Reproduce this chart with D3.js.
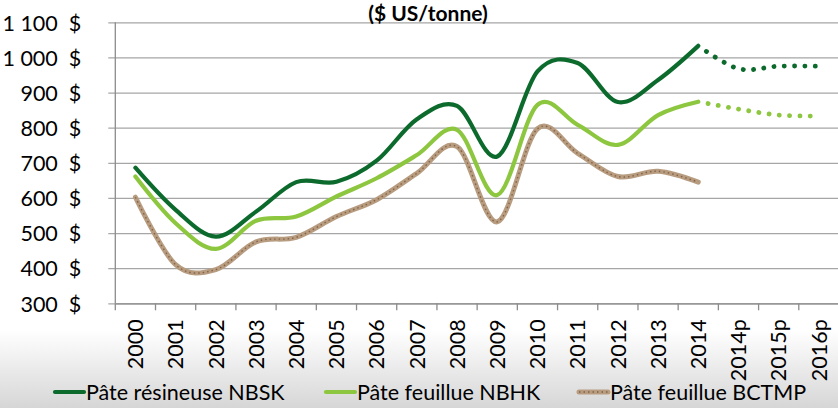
<!DOCTYPE html>
<html>
<head>
<meta charset="utf-8">
<script src="https://cdn.jsdelivr.net/npm/d3@7"></script>
<style>
  body { margin: 0; background: #fff; }
  text { font-family: Lato, "Open Sans", sans-serif; fill: #000; }
</style>
</head>
<body>
<div id="chart"></div>
<script>
// categories
var years = ["2000", "2001", "2002", "2003", "2004", "2005", "2006", "2007", "2008",
  "2009", "2010", "2011", "2012", "2013", "2014", "2014p", "2015p", "2016p"];

// actual prices 2000 - 2014
var nbsk = [686, 566, 490, 561, 645, 646, 706, 824, 862, 718, 960, 984, 873, 936, 1033];
var nbhk = [661, 528, 455, 535, 547, 604, 656, 722, 794, 608, 865, 808, 751, 836, 874];
var bctmp = [602, 410, 396, 475, 488, 547, 595, 670, 746, 532, 797, 727, 661, 676, 645];

// forecasts (2014, 2014p, 2015p, 2016p)
var forecastYears = ["2014", "2014p", "2015p", "2016p"];
var nbskForecast = [1033, 968, 975, 975];
var nbhkForecast = [874, 853, 836, 833];

var yTicks = [300, 400, 500, 600, 700, 800, 900, 1000, 1100];
var legendNames = ["Pâte résineuse NBSK", "Pâte feuillue NBHK", "Pâte feuillue BCTMP"];

var svgWidth = 838;
var svgHeight = 408;

var margin = { top: 22.3, left: 115.3, bottom: 105, right: -1 };
var chartWidth = svgWidth - margin.left - margin.right;
var chartHeight = 303.3 - margin.top;

var darkGreen = "#0b6a2c";
var lightGreen = "#8dc63f";
var tan = "#b89c80";
var fontSize = "21.5px";

var svg = d3.select("#chart").append("svg")
  .attr("width", svgWidth).attr("height", svgHeight);

// background fade at the bottom
var defs = svg.append("defs");
var grad = defs.append("linearGradient").attr("id", "fade")
  .attr("x1", 0).attr("y1", 0).attr("x2", 0).attr("y2", 1);
grad.append("stop").attr("offset", "0%").attr("stop-color", "#ffffff");
grad.append("stop").attr("offset", "100%").attr("stop-color", "#d6d6d6");
svg.append("rect").attr("x", 0).attr("y", 330).attr("width", svgWidth).attr("height", 78)
  .attr("fill", "url(#fade)");

var g = svg.append("g").attr("transform", `translate(${margin.left}, ${margin.top})`);

// scales
var x = d3.scaleBand().domain(years).range([0, chartWidth]);
var y = d3.scaleLinear().domain([300, 1100]).range([chartHeight, 0]);
var cx = d => x(d) + x.bandwidth() / 2;

var fmt = d => d3.format(",")(d).replace(",", " ") + "  $";

// y axis with gridlines
var yAxis = g.append("g").call(d3.axisLeft(y).tickValues(yTicks).tickFormat(fmt).tickPadding(21))
  .attr("transform", "translate(-7,0)");
yAxis.select(".domain").remove();
yAxis.selectAll(".tick line").attr("stroke", "#a6a6a6").attr("stroke-width", 1.3)
  .attr("x1", chartWidth + 7).attr("x2", 0);
yAxis.selectAll("text").style("font-size", fontSize).style("white-space", "pre").attr("dy", "0.36em");

// x axis
var xAxis = g.append("g").attr("transform", `translate(0, ${chartHeight})`)
  .call(d3.axisBottom(x).tickSize(0));
xAxis.select(".domain").attr("stroke", "#8c8c8c").attr("stroke-width", 1.3);
xAxis.selectAll("text")
  .style("font-size", fontSize)
  .attr("text-anchor", "end")
  .attr("transform", "rotate(-90)")
  .attr("x", -16).attr("y", 0).attr("dy", "0.36em");

// category tick marks between bands
g.append("g").selectAll("line").data(years).join("line")
  .attr("x1", d => x(d)).attr("x2", d => x(d))
  .attr("y1", chartHeight).attr("y2", chartHeight + 7)
  .attr("stroke", "#8c8c8c").attr("stroke-width", 1.3);

// vertical axis line
g.append("line").attr("x1", 0).attr("x2", 0).attr("y1", 0).attr("y2", chartHeight)
  .attr("stroke", "#8c8c8c").attr("stroke-width", 1.3);

// line generators
var line = d3.line()
  .x((d, i) => cx(years[i]))
  .y(d => y(d))
  .curve(d3.curveCatmullRom.alpha(0));

var fLine = d3.line()
  .x((d, i) => cx(forecastYears[i]))
  .y(d => y(d))
  .curve(d3.curveCatmullRom.alpha(0));

// BCTMP textured line
g.append("path").attr("d", line(bctmp)).attr("fill", "none")
  .attr("stroke", tan).attr("stroke-width", 5).attr("stroke-linecap", "round");
g.append("path").attr("d", line(bctmp)).attr("fill", "none")
  .attr("stroke", "#6e4a2e").attr("stroke-width", 1.4).attr("stroke-dasharray", "1.5 3")
  .attr("opacity", 0.7);

// NBHK
g.append("path").attr("d", line(nbhk)).attr("fill", "none")
  .attr("stroke", lightGreen).attr("stroke-width", 4.2).attr("stroke-linecap", "round");
g.append("path").attr("d", fLine(nbhkForecast)).attr("fill", "none")
  .attr("stroke", lightGreen).attr("stroke-width", 4.8).attr("stroke-linecap", "round")
  .attr("stroke-dasharray", "0.1 10.2").attr("stroke-dashoffset", -10);

// NBSK
g.append("path").attr("d", line(nbsk)).attr("fill", "none")
  .attr("stroke", darkGreen).attr("stroke-width", 4.2).attr("stroke-linecap", "round");
g.append("path").attr("d", fLine(nbskForecast)).attr("fill", "none")
  .attr("stroke", darkGreen).attr("stroke-width", 4.8).attr("stroke-linecap", "round")
  .attr("stroke-dasharray", "0.1 10.2").attr("stroke-dashoffset", -10);

// title
svg.append("text").attr("x", 428).attr("y", 21).attr("text-anchor", "middle")
  .style("font-size", "21px").style("font-weight", "bold").text("($ US/tonne)");

// legend
var legendX = [55, 326, 579];
var legend = svg.append("g").selectAll("g").data(legendNames).join("g")
  .attr("transform", (d, i) => `translate(${legendX[i]}, 392)`);
legend.append("line").attr("x1", 0).attr("x2", 29).attr("y1", 0).attr("y2", 0)
  .attr("stroke", (d, i) => [darkGreen, lightGreen, tan][i])
  .attr("stroke-width", (d, i) => i == 2 ? 5 : 4.2)
  .attr("stroke-linecap", "round");
legend.filter((d, i) => i == 2).append("line").attr("x1", 0).attr("x2", 29)
  .attr("stroke", "#6e4a2e").attr("stroke-width", 1.4).attr("stroke-dasharray", "1.5 3").attr("opacity", 0.7);
legend.append("text").attr("x", 31).attr("y", 0).attr("dy", "0.36em")
  .style("font-size", fontSize).text(d => d);
</script>
</body>
</html>
